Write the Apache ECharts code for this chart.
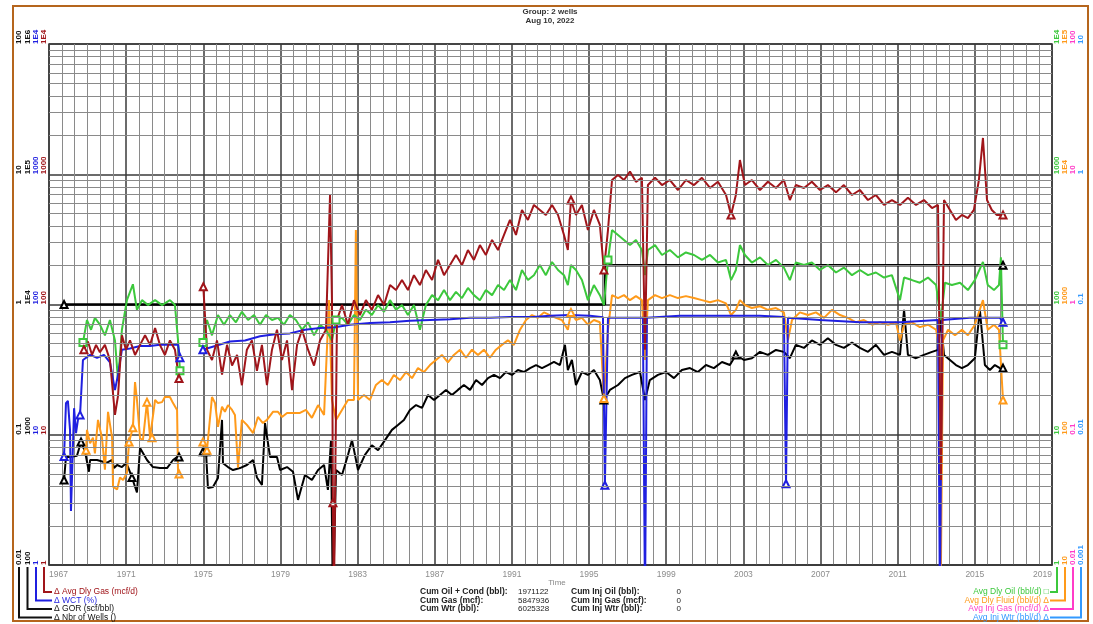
<!DOCTYPE html>
<html><head><meta charset="utf-8">
<script src="https://cdn.jsdelivr.net/npm/echarts@6/dist/echarts.min.js"></script>
<style>html,body{margin:0;padding:0;background:#fff}#c{width:1093px;height:624px}</style>
</head><body><div id="c"></div><script>
const X0 = 1967;
const GAP = 1974.4;
const FONT = 'Liberation Sans';

// [year, mcf/d]
const gasData = [[1968.81,45],[1969.02,52],[1969.23,41],[1969.44,49],[1969.64,43],[1969.9,49],[1970.16,37.5],[1970.42,14.2],[1970.58,20],[1970.78,58],[1970.99,45],[1971.2,53],[1971.46,41],[1971.72,49],[1971.98,58],[1972.24,49],[1972.5,66],[1972.75,49],[1973.01,41],[1973.27,53],[1973.53,45],[1973.74,27],[GAP,null],
[1975.0,137],[1975.19,45],[1975.45,37.5],[1975.71,53],[1975.97,29],[1976.23,49],[1976.49,34],[1976.75,41],[1977.0,24],[1977.26,45],[1977.52,53],[1977.78,31],[1978.04,49],[1978.3,24],[1978.56,45],[1978.82,64],[1979.08,37.5],[1979.34,53],[1979.6,22],[1979.86,49],[1980.12,64],[1980.43,45],[1980.74,34],[1981.05,53],[1981.36,64],[1981.57,693],[1981.67,108],[1981.72,3],[1981.77,0.5],[1981.93,76],[1982.19,99],[1982.5,70],[1982.81,108],[1983.12,83],[1983.43,108],[1983.74,91],[1984.06,118],[1984.37,99],[1984.68,141],[1984.99,129],[1985.3,154],[1985.61,129],[1985.92,168],[1986.23,141],[1986.54,184],[1986.86,154],[1987.17,220],[1987.48,168],[1987.79,201],[1988.1,240],[1988.41,201],[1988.72,262],[1989.03,220],[1989.34,286],[1989.65,240],[1989.97,313],[1990.28,262],[1990.59,342],[1990.9,446],[1991.21,342],[1991.52,532],[1991.83,446],[1992.14,581],[1992.45,532],[1992.76,487],[1993.08,581],[1993.39,487],[1993.7,342],[1993.9,262],[1994.06,634],[1994.32,487],[1994.63,581],[1994.94,373],[1995.25,532],[1995.56,408],[1995.77,184],[1995.98,373],[1996.19,903],[1996.5,987],[1996.81,903],[1997.12,1050],[1997.43,875],[1997.74,940],[1997.9,45],[1998.05,826],[1998.42,940],[1998.78,826],[1999.19,903],[1999.61,757],[2000.02,903],[2000.44,826],[2000.85,940],[2001.27,785],[2001.68,875],[2002.1,693],[2002.36,487],[2002.61,693],[2002.82,1286],[2003.08,826],[2003.44,903],[2003.86,757],[2004.27,875],[2004.69,785],[2005.1,903],[2005.41,634],[2005.72,826],[2006.14,785],[2006.55,875],[2006.97,757],[2007.38,826],[2007.8,726],[2008.21,826],[2008.63,693],[2009.04,757],[2009.46,634],[2009.87,693],[2010.29,581],[2010.7,634],[2011.12,581],[2011.53,660],[2011.95,581],[2012.36,634],[2012.78,550],[2013.09,581],[2013.24,4.5],[2013.4,634],[2013.71,532],[2014.02,446],[2014.33,487],[2014.64,460],[2014.95,532],[2015.21,903],[2015.42,1900],[2015.63,634],[2015.88,532],[2016.14,487],[2016.46,487]];

// [year, %]
const wctData = [[1967.78,6.8],[1967.88,17.5],[1967.98,18.2],[1968.09,10.9],[1968.14,2.6],[1968.24,8.1],[1968.3,16],[1968.4,10.3],[1968.5,13],[1968.61,14.2],[1968.76,37.5],[1969.13,41],[1969.49,39],[1969.85,41],[1970.16,36],[1970.42,22],[1970.58,29],[1970.78,45],[1971.2,46],[1971.72,48],[1972.24,48],[1972.75,49],[1973.27,49],[1973.69,49],[1973.79,39],[GAP,null],
[1974.98,45],[1975.61,48],[1976.38,52],[1977.16,53],[1977.94,57],[1978.72,59],[1979.49,60],[1980.27,64],[1981.05,66],[1981.83,67],[1982.6,70],[1983.64,72],[1984.68,73],[1985.71,75],[1986.75,76],[1987.79,77],[1988.83,79],[1989.86,79],[1990.9,80],[1991.94,80],[1992.97,82],[1994.01,83],[1995.04,82],[1995.72,80],[1995.82,4.1],[1995.98,79],[1996.6,79],[1997.79,79],[1997.9,0.5],[1998.0,79],[1999.71,82],[2001.78,82],[2003.86,82],[2005.1,80],[2005.21,4.2],[2005.31,79],[2006.97,76],[2009.04,73],[2011.12,73],[2013.09,76],[2013.19,0.5],[2013.3,76],[2014.74,79],[2016.3,79],[2016.46,73]];

// [year, scf/bbl]
const gorData = [[1967.78,449],[1967.88,675],[1968.09,675],[1968.45,690],[1968.66,880],[1968.87,740],[1969.07,520],[1969.13,640],[1969.49,640],[1969.8,620],[1970.01,610],[1970.27,640],[1970.37,555],[1970.53,586],[1970.78,565],[1970.99,605],[1971.1,565],[1971.3,470],[1971.56,360],[1971.72,790],[1972.08,640],[1972.39,565],[1972.75,555],[1973.12,555],[1973.43,640],[1973.64,675],[1973.74,675],[GAP,null],
[1974.98,740],[1975.14,740],[1975.24,390],[1975.5,397],[1975.76,465],[1975.97,1300],[1976.02,605],[1976.28,565],[1976.54,536],[1976.9,555],[1977.26,586],[1977.58,640],[1977.78,470],[1978.04,411],[1978.2,1230],[1978.46,675],[1978.82,675],[1978.98,536],[1979.34,565],[1979.65,520],[1979.91,316],[1980.27,491],[1980.63,449],[1980.95,536],[1981.26,586],[1981.46,377],[1981.62,910],[1981.72,50],[1981.88,536],[1982.19,491],[1982.5,700],[1982.71,910],[1983.02,536],[1983.38,700],[1983.74,830],[1984.06,760],[1984.42,910],[1984.78,1090],[1985.09,1190],[1985.4,1300],[1985.71,1550],[1986.03,1690],[1986.34,1610],[1986.65,2020],[1986.96,1850],[1987.27,2020],[1987.58,2210],[1987.89,2020],[1988.2,2210],[1988.51,2410],[1988.83,2210],[1989.14,2630],[1989.45,2410],[1989.76,2720],[1990.07,2880],[1990.38,2720],[1990.69,3030],[1991.0,2880],[1991.31,3140],[1991.62,3030],[1991.94,3250],[1992.25,3430],[1992.56,3250],[1992.87,3430],[1993.18,3620],[1993.49,3430],[1993.75,4900],[1993.9,3140],[1994.11,3750],[1994.32,2410],[1994.63,3030],[1994.94,2880],[1995.25,3140],[1995.56,2630],[1995.77,1850],[1995.87,1850],[1996.08,2210],[1996.5,2410],[1996.86,2720],[1997.22,2880],[1997.64,3030],[1997.9,1850],[1998.15,2630],[1998.57,2880],[1998.99,3030],[1999.4,2720],[1999.81,3140],[2000.23,3250],[2000.64,3030],[2001.06,3430],[2001.47,3250],[2001.89,3620],[2002.3,3430],[2002.61,4100],[2003.03,3750],[2003.44,3870],[2003.86,4330],[2004.27,4100],[2004.69,4480],[2005.1,4330],[2005.41,3870],[2005.72,4900],[2006.14,4640],[2006.55,5300],[2006.97,4900],[2007.38,5500],[2007.8,4900],[2008.21,4640],[2008.63,5100],[2009.04,4640],[2009.46,4330],[2009.87,4900],[2010.29,4100],[2010.7,4330],[2011.12,4100],[2011.33,9100],[2011.53,4100],[2011.95,3870],[2012.36,4100],[2012.78,4330],[2013.09,4480],[2013.24,7600],[2013.4,4100],[2013.71,3750],[2014.02,3430],[2014.33,3250],[2014.64,3430],[2015.0,3870],[2015.26,9100],[2015.52,3430],[2015.78,3140],[2016.04,3430],[2016.3,3250],[2016.46,3250]];

// [year, wells]
const wellsData = [[1967.78,1],[1995.82,1],[1995.82,2],[2016.46,2]];

// [year, bbl/d]
const oilData = [[1968.76,51],[1968.97,76],[1969.18,64],[1969.38,79],[1969.64,70],[1969.9,58],[1970.16,76],[1970.42,53],[1970.58,26],[1970.78,64],[1971.04,108],[1971.35,143],[1971.56,91],[1971.82,108],[1972.13,99],[1972.5,108],[1972.86,99],[1973.27,108],[1973.53,99],[1973.69,53],[1973.79,31],[GAP,null],
[1974.98,51],[1975.19,76],[1975.45,58],[1975.76,83],[1976.07,70],[1976.38,83],[1976.69,73],[1977.0,88],[1977.32,76],[1977.63,83],[1977.94,70],[1978.25,83],[1978.56,76],[1978.87,79],[1979.18,70],[1979.49,83],[1979.8,76],[1980.12,64],[1980.43,73],[1980.74,58],[1981.05,70],[1981.36,64],[1981.67,53],[1981.88,76],[1982.19,79],[1982.5,70],[1982.81,83],[1983.12,76],[1983.43,91],[1983.74,83],[1984.06,99],[1984.37,88],[1984.68,108],[1984.99,91],[1985.3,99],[1985.61,83],[1985.92,99],[1986.23,64],[1986.54,99],[1986.86,118],[1987.17,108],[1987.48,129],[1987.79,108],[1988.1,125],[1988.41,112],[1988.72,134],[1989.03,118],[1989.34,108],[1989.65,129],[1989.97,118],[1990.28,141],[1990.59,129],[1990.9,154],[1991.21,129],[1991.52,184],[1991.83,154],[1992.14,168],[1992.45,201],[1992.76,168],[1993.08,212],[1993.39,184],[1993.7,168],[1993.9,141],[1994.06,201],[1994.32,184],[1994.63,154],[1994.94,108],[1995.25,141],[1995.56,118],[1995.77,99],[1995.98,220],[1996.19,373],[1996.5,342],[1996.81,313],[1997.12,286],[1997.43,313],[1997.74,262],[1997.9,168],[1998.05,262],[1998.42,286],[1998.78,240],[1999.19,262],[1999.61,230],[2000.02,251],[2000.44,240],[2000.85,220],[2001.27,240],[2001.68,210],[2002.1,220],[2002.36,154],[2002.61,184],[2002.82,286],[2003.08,240],[2003.44,210],[2003.86,230],[2004.27,201],[2004.69,220],[2005.1,192],[2005.41,154],[2005.72,210],[2006.14,201],[2006.55,210],[2006.97,184],[2007.38,201],[2007.8,176],[2008.21,192],[2008.63,168],[2009.04,184],[2009.46,168],[2009.87,176],[2010.29,161],[2010.7,168],[2011.12,108],[2011.33,161],[2011.74,154],[2012.15,147],[2012.57,161],[2012.99,141],[2013.24,76],[2013.45,147],[2013.81,141],[2014.23,147],[2014.64,129],[2015.0,154],[2015.42,212],[2015.67,141],[2015.99,129],[2016.25,141],[2016.35,230],[2016.46,49]];

// [year, bbl/d]
const fluidData = [[1968.92,76],[1968.97,109],[1969.13,86],[1969.28,95],[1969.38,72],[1969.54,130],[1969.75,94],[1969.9,54],[1970.06,150],[1970.27,95],[1970.32,40],[1970.53,38],[1970.68,47],[1970.84,45],[1971.04,51],[1971.15,88],[1971.35,113],[1971.46,254],[1971.56,185],[1971.72,94],[1971.87,91],[1972.08,178],[1972.24,95],[1972.34,95],[1972.5,185],[1972.65,175],[1972.86,178],[1973.01,195],[1973.27,195],[1973.43,175],[1973.64,155],[1973.69,51],[1973.74,50],[GAP,null],
[1974.98,88],[1975.19,76],[1975.45,195],[1975.61,175],[1975.76,115],[1975.97,164],[1976.12,150],[1976.28,169],[1976.49,155],[1976.64,142],[1976.8,56],[1977.0,130],[1977.26,119],[1977.58,103],[1977.83,137],[1978.09,123],[1978.3,130],[1978.61,150],[1978.87,150],[1979.08,137],[1979.34,147],[1979.65,147],[1980.01,147],[1980.32,155],[1980.63,135],[1980.95,169],[1981.26,142],[1981.52,1080],[1981.67,185],[1981.88,130],[1982.19,155],[1982.5,185],[1982.81,185],[1982.91,3730],[1983.02,185],[1983.33,202],[1983.64,185],[1983.95,241],[1984.26,263],[1984.57,241],[1984.88,288],[1985.2,263],[1985.51,303],[1985.82,272],[1986.13,325],[1986.44,303],[1986.75,343],[1987.06,375],[1987.37,410],[1987.68,360],[1987.99,410],[1988.31,450],[1988.62,390],[1988.93,450],[1989.24,410],[1989.55,450],[1989.86,390],[1990.17,450],[1990.48,490],[1990.79,530],[1991.1,490],[1991.42,640],[1991.73,760],[1992.04,830],[1992.35,790],[1992.66,870],[1992.97,830],[1993.28,790],[1993.59,760],[1993.9,640],[1994.06,870],[1994.32,760],[1994.63,790],[1994.94,700],[1995.25,760],[1995.56,730],[1995.77,190],[1995.98,640],[1996.19,1180],[1996.5,1120],[1996.81,1180],[1997.12,1080],[1997.43,1160],[1997.74,1080],[1997.9,375],[1998.05,1080],[1998.42,1180],[1998.78,1120],[1999.19,1180],[1999.61,1120],[2000.02,1160],[2000.44,1120],[2000.85,1080],[2001.27,1040],[2001.68,1080],[2002.1,1020],[2002.36,830],[2002.61,910],[2002.82,1080],[2003.08,990],[2003.44,940],[2003.86,970],[2004.27,910],[2004.69,940],[2005.1,870],[2005.31,530],[2005.52,760],[2005.93,870],[2006.35,830],[2006.76,870],[2007.18,790],[2007.59,910],[2008.01,830],[2008.42,790],[2008.84,730],[2009.25,760],[2009.67,700],[2010.08,730],[2010.5,700],[2010.91,730],[2011.12,530],[2011.33,700],[2011.74,730],[2012.15,670],[2012.57,700],[2012.99,640],[2013.19,450],[2013.24,9],[2013.35,530],[2013.61,640],[2013.97,580],[2014.33,640],[2014.64,580],[2015.0,700],[2015.42,1080],[2015.67,640],[2015.99,700],[2016.25,640],[2016.46,185]];

// years where the source plot shows an event marker on a series
const gasMarkYears = [1975.0, 1981.72, 1994.06, 1995.77, 2002.36];
const wctMarkYears = [1968.61, 1995.82, 2005.21];
const gorMarkYears = [1968.66, 1971.3, 1975.14, 1995.77, 2002.61];
const oilMarkYears = [1981.88, 1995.98];
const fluidMarkYears = [1971.15, 1971.35, 1972.08, 1972.34, 1975.19, 1994.06, 1995.77];
const wellsMarkYears = [];

const xTickStep = 4;
const minorGridMult = [2,3,4,5,6,7,8,9];
const minorGridDecades = [1,10,100,1000];
const cumLabels = ['Cum Oil + Cond (bbl):','Cum Gas (mcf):','Cum Wtr (bbl):'];
const cumValues = ['1971122','5847936','6025328'];
const injLabels = ['Cum Inj Oil (bbl):','Cum Inj Gas (mcf):','Cum Inj Wtr (bbl):'];
const injValues = ['0','0','0'];
const leftLegend = [['\u0394 Avg Dly Gas (mcf/d)','#a0151a'],['\u0394 WCT (%)','#1f1fe0'],['\u0394 GOR (scf/bbl)','#111'],['\u0394 Nbr of Wells ()','#111']];
const rightLegend = [['Avg Dly Oil (bbl/d) \u25A1','#3cc83c'],['Avg Dly Fluid (bbl/d) \u0394','#ff9a1a'],['Avg Inj Gas (mcf/d) \u0394','#ff3cc8'],['Avg Inj Wtr (bbl/d) \u0394','#3399ff']];

function fmt(v){ const n = Number(Number(v).toPrecision(6)); if (n >= 10000) return '1E' + Math.round(Math.log10(n)); return String(n); }
// shift years onto the 0-based axis; outline marker at each segment end and at event years
function toXY(arr, symbol, markYears){
  return arr.map((p, i) => {
    if (p[1] === null) return [p[0]-X0, '-'];
    const v = [p[0]-X0, p[1]];
    const isEnd = i === 0 || i === arr.length-1 || arr[i-1][1] === null || arr[i+1][1] === null;
    const isMark = markYears.some(y => Math.abs(y - p[0]) < 0.005);
    return (isEnd || isMark) ? {value: v, symbol, symbolSize: 7} : v;
  });
}

function yAx(min, max, pos, offset, color){
  return {type:'log', logBase:10, min, max, position:pos, offset,
    axisLine:{show:false}, axisTick:{show:false}, splitLine:{show:false},
    axisLabel:{show:true, rotate:90, color, fontSize:8, fontFamily:FONT, fontWeight:'bold', margin:1,
      align:'left', verticalAlign: pos==='left' ? 'bottom' : 'top', formatter: fmt, showMinLabel:true, showMaxLabel:true}};
}
const yAxes = [
  yAx(1,1e4,'left',0,'#a0151a'),
  yAx(1,1e4,'left',8,'#1f1fe0'),
  yAx(100,1e6,'left',16.5,'#111'),
  yAx(0.01,100,'left',25,'#111'),
  yAx(1,1e4,'right',0,'#3cc83c'),
  yAx(10,1e5,'right',8,'#ff9a1a'),
  yAx(0.01,100,'right',16,'#ff3cc8'),
  yAx(0.001,10,'right',24,'#3399ff')
];
yAxes[0].splitLine = {show:true, lineStyle:{color:'#3a3a3a', width:1.5}};

const minorLines = [];
minorGridDecades.forEach(d => minorGridMult.forEach(m => minorLines.push({yAxis: d*m})));

function lineSeries(name, data, yi, color, w, sym, marks){
  return {name, type:'line', yAxisIndex:yi, data: toXY(data, sym, marks), symbol:'none', connectNulls:false,
    lineStyle:{color, width:w}, itemStyle:{color, borderWidth:1}, animation:false, z:3};
}

const graphics = [];
graphics.push({type:'rect', shape:{x:13,y:6,width:1075,height:615}, style:{fill:null, stroke:'#b5651d', lineWidth:2}, silent:true});
graphics.push({type:'text', x:550, y:12, style:{text:'Group: 2 wells', font:'bold 8px '+FONT, fill:'#333', textAlign:'center', textVerticalAlign:'middle'}});
graphics.push({type:'text', x:550, y:21, style:{text:'Aug 10, 2022', font:'bold 8px '+FONT, fill:'#333', textAlign:'center', textVerticalAlign:'middle'}});
graphics.push({type:'text', x:557, y:583, style:{text:'Time', font:'8px '+FONT, fill:'#888', textAlign:'center', textVerticalAlign:'middle'}});
const rowsY = [592, 600.5, 609];
cumLabels.forEach((t,i)=>{
  graphics.push({type:'text', x:420, y:rowsY[i], style:{text:t, font:'bold 8.5px '+FONT, fill:'#222', textVerticalAlign:'middle'}});
  graphics.push({type:'text', x:518, y:rowsY[i], style:{text:cumValues[i], font:'8px '+FONT, fill:'#222', textVerticalAlign:'middle'}});
  graphics.push({type:'text', x:571, y:rowsY[i], style:{text:injLabels[i], font:'bold 8.5px '+FONT, fill:'#222', textVerticalAlign:'middle'}});
  graphics.push({type:'text', x:681, y:rowsY[i], style:{text:injValues[i], font:'8px '+FONT, fill:'#222', textAlign:'right', textVerticalAlign:'middle'}});
});
const legY = [592, 600.5, 609, 617.5];
const leftCols = [44, 36, 27.5, 19];
leftLegend.forEach((l,i)=>{
  graphics.push({type:'polyline', shape:{points:[[leftCols[i],567],[leftCols[i],legY[i]],[52,legY[i]]]}, style:{stroke:l[1], lineWidth:2, fill:null}});
  graphics.push({type:'text', x:54, y:legY[i], style:{text:l[0], font:'8.5px '+FONT, fill:l[1], textVerticalAlign:'middle'}});
});
const rightCols = [1057, 1065, 1073, 1081];
rightLegend.forEach((l,i)=>{
  graphics.push({type:'polyline', shape:{points:[[rightCols[i],567],[rightCols[i],legY[i]],[1050,legY[i]]]}, style:{stroke:l[1], lineWidth:2, fill:null}});
  graphics.push({type:'text', x:1049, y:legY[i], style:{text:l[0], font:'8.5px '+FONT, fill:l[1], textAlign:'right', textVerticalAlign:'middle'}});
});

const chart = echarts.init(document.getElementById('c'), null, {renderer:'canvas'});
chart.setOption({
  animation:false,
  backgroundColor:'#fff',
  grid:{left:49, right:41, top:44, bottom:59, show:true, borderColor:'#3a3a3a', borderWidth:1.5, outerBoundsMode:'none'},
  xAxis:{type:'value', min:0, max:2019-X0, interval:xTickStep,
    axisLine:{show:true, lineStyle:{color:'#3a3a3a', width:1.5}}, axisTick:{show:false},
    axisLabel:{color:'#8c8c8c', fontSize:8.5, fontFamily:FONT, margin:5, formatter:v=>String(X0+v), alignMinLabel:'left', alignMaxLabel:'right', showMinLabel:true, showMaxLabel:true},
    splitLine:{show:true, lineStyle:{color:'#3a3a3a', width:1.5}},
    minorTick:{show:false, splitNumber:6},
    minorSplitLine:{show:true, lineStyle:{color:'#8a8a8a', width:1}}},
  yAxis: yAxes,
  series:[
    {type:'line', yAxisIndex:0, data:[], silent:true, z:1,
      markLine:{silent:true, symbol:['none','none'], label:{show:false}, animation:false,
        lineStyle:{color:'#8a8a8a', width:1, type:'solid'}, data:minorLines}},
    lineSeries('Nbr of Wells', wellsData, 3, '#000', 2.5, 'emptyTriangle', wellsMarkYears),
    lineSeries('GOR', gorData, 2, '#000', 2, 'emptyTriangle', gorMarkYears),
    lineSeries('Avg Dly Fluid', fluidData, 5, '#ff9a1a', 2, 'emptyTriangle', fluidMarkYears),
    lineSeries('Avg Dly Oil', oilData, 4, '#3cc83c', 2, 'emptyRect', oilMarkYears),
    lineSeries('WCT', wctData, 1, '#1f1fe0', 2, 'emptyTriangle', wctMarkYears),
    lineSeries('Avg Dly Gas', gasData, 0, '#a0151a', 2, 'emptyTriangle', gasMarkYears)
  ],
  graphic: graphics
});
</script></body></html>
